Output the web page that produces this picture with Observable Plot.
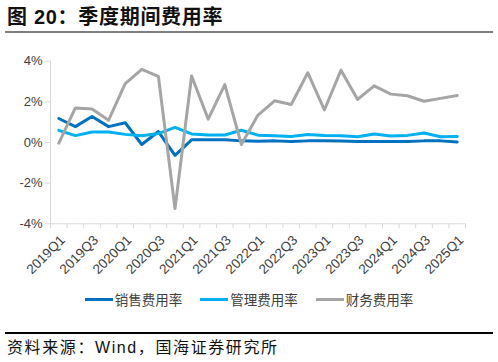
<!DOCTYPE html>
<html>
<head>
<meta charset="utf-8">
<script src="https://cdn.jsdelivr.net/npm/d3@7"></script>
<script src="https://cdn.jsdelivr.net/npm/@observablehq/plot@0.6"></script>
<style>
  html, body { margin: 0; padding: 0; background: #fff; }
  body { width: 498px; height: 362px; position: relative; overflow: hidden; font-family: "Liberation Sans", Arial, "Noto Sans CJK SC", sans-serif; }
  #title { position: absolute; left: 7px; top: 6px; font-size: 20px; line-height: 22px; font-weight: bold; letter-spacing: 0.7px; color: #111; font-family: "Liberation Sans", Arial, "Noto Sans CJK SC", sans-serif; }
  #tline { position: absolute; left: 5px; top: 31px; width: 488px; height: 2px; background: #7f7f7f; }
  #chart { position: absolute; left: 0; top: 40px; }
  #legend { position: absolute; left: 0; top: 289px; width: 498px; display: flex; justify-content: center; gap: 18px; font-size: 13.5px; color: #404040; font-family: "Noto Sans CJK SC", sans-serif; line-height: 20px; }
  .item { display: flex; align-items: center; }
  .sw { width: 28px; height: 3px; margin-right: 2px; }
  #bline { position: absolute; left: 5px; top: 332px; width: 488px; height: 1.5px; background: #000; }
  #source { position: absolute; left: 7px; top: 338px; font-size: 16px; line-height: 20px; color: #111; letter-spacing: 1.6px; font-family: "Liberation Sans", Arial, "Noto Sans CJK SC", sans-serif; }
</style>
</head>
<body>
<div id="title">图 20：季度期间费用率</div>
<div id="tline"></div>
<div id="chart"></div>
<div id="legend"></div>
<div id="bline"></div>
<div id="source">资料来源：Wind，国海证券研究所</div>
<script>
const quarters = ["2019Q1","2019Q2","2019Q3","2019Q4","2020Q1","2020Q2","2020Q3","2020Q4",
  "2021Q1","2021Q2","2021Q3","2021Q4","2022Q1","2022Q2","2022Q3","2022Q4",
  "2023Q1","2023Q2","2023Q3","2023Q4","2024Q1","2024Q2","2024Q3","2024Q4","2025Q1"];
const sales =   [1.18, 0.78, 1.28, 0.78, 0.97, -0.10, 0.54, -0.63, 0.13, 0.13, 0.13, 0.08, 0.06, 0.08, 0.05, 0.08, 0.08, 0.07, 0.05, 0.05, 0.05, 0.05, 0.08, 0.08, 0.03];
const admin =   [0.60, 0.34, 0.52, 0.52, 0.40, 0.33, 0.44, 0.74, 0.42, 0.37, 0.37, 0.60, 0.36, 0.33, 0.30, 0.39, 0.34, 0.33, 0.28, 0.42, 0.32, 0.35, 0.47, 0.28, 0.29];
const finance = [-0.03, 1.70, 1.65, 1.10, 2.90, 3.60, 3.25, -3.25, 3.27, 1.15, 2.85, -0.10, 1.35, 2.05, 1.87, 3.43, 1.60, 3.56, 2.12, 2.79, 2.38, 2.30, 2.03, 2.17, 2.31];
const yTicks = [-4, -2, 0, 2, 4];
const seriesNames = ["销售费用率", "管理费用率", "财务费用率"];
const seriesColors = ["#0070c0", "#00b0f0", "#a5a5a5"];

const data = quarters.map((q, i) => ({ i, q, sales: sales[i], admin: admin[i], finance: finance[i] }));
const n = quarters.length;

const chart = Plot.plot({
  width: 498,
  height: 250,
  marginTop: 20.7,
  marginBottom: 66.7,
  marginLeft: 50,
  marginRight: 33,
  style: { fontFamily: "'Liberation Sans', Arial, sans-serif", color: "#404040", background: "transparent" },
  x: { domain: [-0.5, n - 0.5] },
  y: { domain: [-4, 4] },
  marks: [
    Plot.ruleY([-4], { stroke: "#d9d9d9", strokeWidth: 1 }),
    Plot.ruleX([-0.5], { y1: -4, y2: 4, stroke: "#d9d9d9", strokeWidth: 1 }),
    Plot.axisY({ ticks: yTicks, tickFormat: d => `${d}%`, tickSize: 5, tickPadding: 3, stroke: "#d9d9d9", fill: "#404040", fontSize: 13, label: null }),
    Plot.axisX({ ticks: d3.range(-0.5, n, 1), tickSize: 5, tickFormat: () => "", stroke: "#d9d9d9", label: null }),
    Plot.axisX({ ticks: d3.range(0, n, 2), tickSize: 0, tickPadding: 14, dx: 4, tickFormat: i => quarters[i], tickRotate: -45, fill: "#404040", fontSize: 13.5, label: null }),
    Plot.lineY(data, { x: "i", y: "sales", stroke: seriesColors[0], strokeWidth: 3 }),
    Plot.lineY(data, { x: "i", y: "admin", stroke: seriesColors[1], strokeWidth: 3 }),
    Plot.lineY(data, { x: "i", y: "finance", stroke: seriesColors[2], strokeWidth: 3 })
  ]
});
document.getElementById("chart").appendChild(chart);

const legend = document.getElementById("legend");
seriesNames.forEach((name, k) => {
  const item = document.createElement("div");
  item.className = "item";
  const sw = document.createElement("div");
  sw.className = "sw";
  sw.style.background = seriesColors[k];
  const t = document.createElement("span");
  t.textContent = name;
  item.appendChild(sw);
  item.appendChild(t);
  legend.appendChild(item);
});
</script>
</body>
</html>
